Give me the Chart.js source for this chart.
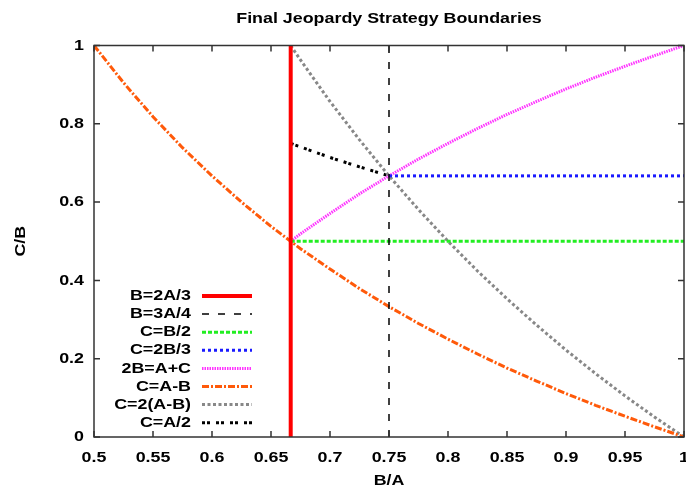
<!DOCTYPE html>
<html>
<head>
<meta charset="utf-8">
<script src="https://cdn.jsdelivr.net/npm/chart.js@4"></script>
<style>
  body { margin: 0; background: #fff; }
  #wrap { width: 686px; height: 491px; }
</style>
</head>
<body>
<div id="wrap"><canvas id="myChart"></canvas></div>
<script>
// valores
const xTicks = [0.5, 0.55, 0.6, 0.65, 0.7, 0.75, 0.8, 0.85, 0.9, 0.95, 1];
const xTickLabels = ['0.5', '0.55', '0.6', '0.65', '0.7', '0.75', '0.8', '0.85', '0.9', '0.95', '1'];
const yTicks = [0, 0.2, 0.4, 0.6, 0.8, 1];
const yTickLabels = ['0', '0.2', '0.4', '0.6', '0.8', '1'];

// B=2A/3 y B=3A/4 (verticales)
const redX = [0.6667, 0.6667];
const redY = [0, 1];
const vdashX = [0.75, 0.75];
const vdashY = [0, 1];

// C=B/2 y C=2B/3 (horizontales)
const halfX = [0.6667, 1];
const halfY = [0.5, 0.5];
const twoThirdX = [0.75, 1];
const twoThirdY = [0.667, 0.667];

// 2B=A+C
const magX = [0.6667, 0.675, 0.7, 0.725, 0.75, 0.775, 0.8, 0.825, 0.85, 0.875, 0.9, 0.925, 0.95, 0.975, 1];
const magY = [0.5, 0.519, 0.571, 0.621, 0.667, 0.710, 0.75, 0.788, 0.824, 0.857, 0.889, 0.919, 0.947, 0.974, 1];

// C=A-B
const orangeX = [0.5, 0.525, 0.55, 0.575, 0.6, 0.625, 0.65, 0.675, 0.7, 0.725, 0.75, 0.775, 0.8, 0.825, 0.85, 0.875, 0.9, 0.925, 0.95, 0.975, 1];
const orangeY = [1, 0.905, 0.818, 0.739, 0.667, 0.6, 0.538, 0.481, 0.429, 0.379, 0.333, 0.290, 0.25, 0.212, 0.176, 0.143, 0.111, 0.081, 0.053, 0.026, 0];

// C=2(A-B)
const grayX = [0.6667, 0.675, 0.7, 0.725, 0.75, 0.775, 0.8, 0.825, 0.85, 0.875, 0.9, 0.925, 0.95, 0.975, 1];
const grayY = [1, 0.963, 0.857, 0.759, 0.667, 0.581, 0.5, 0.424, 0.353, 0.286, 0.222, 0.162, 0.105, 0.051, 0];

// C=A/2
const blackX = [0.6667, 0.7, 0.725, 0.75];
const blackY = [0.75, 0.714, 0.690, 0.667];

const pts = (xs, ys) => xs.map((x, i) => ({ x: x, y: ys[i] }));

const FONT = "'Liberation Sans', Arial, sans-serif";
const FS = 15;

function serie(label, xs, ys, color, width, dash) {
  return {
    label: label,
    data: pts(xs, ys),
    showLine: true,
    borderColor: color,
    borderWidth: width,
    borderDash: dash,
    pointRadius: 0,
    fill: false
  };
}

const datasets = [
  serie('B=2A/3', redX, redY, '#ff0000', 4, []),
  serie('B=3A/4', vdashX, vdashY, '#000000', 1.5, [7, 9]),
  serie('C=B/2', halfX, halfY, '#22ee22', 3, [4, 2]),
  serie('C=2B/3', twoThirdX, twoThirdY, '#1a1aff', 3, [3, 3]),
  serie('2B=A+C', magX, magY, '#ff33ff', 3, [1.5, 1]),
  serie('C=A-B', orangeX, orangeY, '#ff5a0a', 3, [7, 2, 2, 2]),
  serie('C=2(A-B)', grayX, grayY, '#888888', 3, [3, 2.5]),
  serie('C=A/2', blackX, blackY, '#000000', 3, [3, 2, 3, 6])
];

// marco, ticks hacia adentro y leyenda estilo gnuplot
const frame = {
  id: 'frame',
  afterDraw(chart) {
    const c = chart.ctx;
    const a = chart.chartArea;
    const sx = chart.scales.x, sy = chart.scales.y;
    c.save();
    c.strokeStyle = '#333';
    c.lineWidth = 1.5;
    c.setLineDash([]);
    c.strokeRect(a.left, a.top, a.right - a.left, a.bottom - a.top);
    c.beginPath();
    xTicks.forEach(v => {
      const px = sx.getPixelForValue(v);
      c.moveTo(px, a.bottom); c.lineTo(px, a.bottom - 6);
      c.moveTo(px, a.top); c.lineTo(px, a.top + 6);
    });
    yTicks.forEach(v => {
      const py = sy.getPixelForValue(v);
      c.moveTo(a.left, py); c.lineTo(a.left + 6, py);
      c.moveTo(a.right, py); c.lineTo(a.right - 6, py);
    });
    c.stroke();

    // leyenda
    c.font = 'bold ' + FS + 'px ' + FONT;
    c.textAlign = 'right';
    c.textBaseline = 'middle';
    chart.data.datasets.forEach((ds, i) => {
      const y = 296 + i * 18.1;
      c.fillStyle = '#000';
      c.fillText(ds.label, 191, y);
      c.strokeStyle = ds.borderColor;
      c.lineWidth = ds.borderWidth;
      c.setLineDash(ds.borderDash);
      c.beginPath();
      c.moveTo(202, y); c.lineTo(252, y);
      c.stroke();
    });
    c.restore();
  }
};

const canvas = document.getElementById('myChart');

// el texto del original es mas ancho: se estira en horizontal
const g = canvas.getContext('2d');
const fillTextOrig = g.fillText.bind(g);
g.fillText = function (t, x, y, mw) {
  g.save();
  g.translate(x, y);
  g.scale(1.19, 1);
  if (mw === undefined) fillTextOrig(t, 0, 0);
  else fillTextOrig(t, 0, 0, mw);
  g.restore();
};

new Chart(canvas, {
  type: 'scatter',
  data: { datasets: datasets },
  options: {
    responsive: true,
    maintainAspectRatio: false,
    animation: false,
    layout: { padding: { left: 0, right: 2, top: 0, bottom: 0 } },
    plugins: {
      legend: { display: false },
      tooltip: { enabled: false },
      title: {
        display: true,
        fullSize: false,
        text: 'Final Jeopardy Strategy Boundaries',
        color: '#000',
        font: { family: FONT, size: FS, weight: 'bold' },
        padding: { top: 10, bottom: 17.5 }
      }
    },
    scales: {
      x: {
        type: 'linear',
        min: 0.5,
        max: 1,
        afterBuildTicks: s => { s.ticks = xTicks.map(v => ({ value: v })); },
        afterFit: s => { s.height = 54; s.paddingLeft = 0; s.paddingRight = 0; },
        grid: { display: false, drawTicks: false },
        border: { display: false },
        ticks: {
          color: '#000',
          padding: 12,
          maxRotation: 0,
          font: { family: FONT, size: FS, weight: 'bold' },
          callback: v => xTickLabels[xTicks.indexOf(v)]
        },
        title: {
          display: true,
          text: 'B/A',
          color: '#000',
          font: { family: FONT, size: FS, weight: 'bold' },
          padding: { top: 2, bottom: 1 }
        }
      },
      y: {
        type: 'linear',
        min: 0,
        max: 1,
        afterBuildTicks: s => { s.ticks = yTicks.map(v => ({ value: v })); },
        afterFit: s => { s.width = 94; s.paddingTop = 0; s.paddingBottom = 0; },
        grid: { display: false, drawTicks: false },
        border: { display: false },
        ticks: {
          color: '#000',
          padding: 10,
          font: { family: FONT, size: FS, weight: 'bold' },
          callback: v => yTickLabels[yTicks.indexOf(v)]
        },
        title: {
          display: true,
          text: 'C/B',
          color: '#000',
          font: { family: FONT, size: FS, weight: 'bold' },
          padding: { top: 12, bottom: 12 }
        }
      }
    }
  },
  plugins: [frame]
});
</script>
</body>
</html>
